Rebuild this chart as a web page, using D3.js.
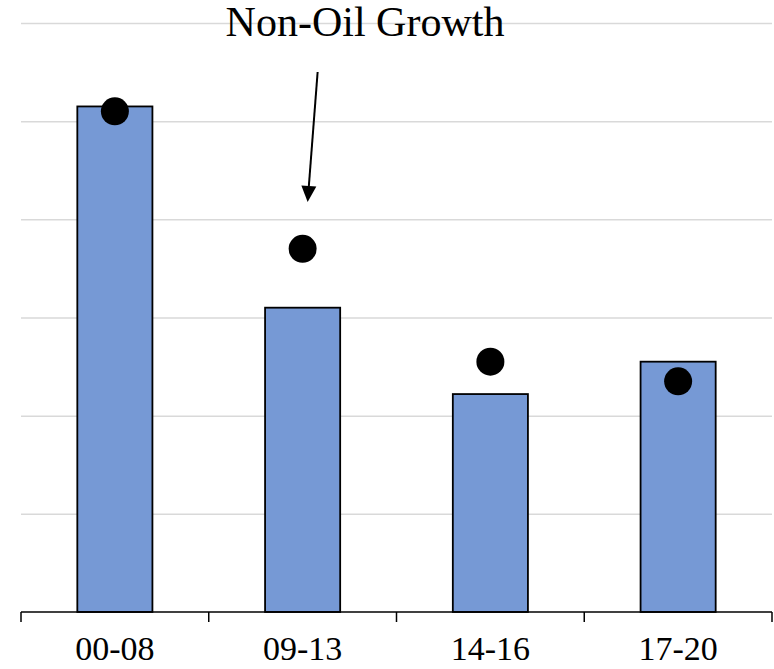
<!DOCTYPE html>
<html lang="en">
<head>
    <meta charset="UTF-8">
    <script src="https://cdnjs.cloudflare.com/ajax/libs/d3/7.8.5/d3.min.js"></script>
    <style>
        body { margin: 0; background: white; }
        svg { display: block; }
        .grid line { stroke: #d9d9d9; stroke-width: 1.5px; }
        .grid .domain { display: none; }
        rect.bar { fill: #7699d5; stroke: black; stroke-width: 1.8px; }
        circle.dot { fill: black; }
        .x-axis text { font-family: "Liberation Serif", serif; font-size: 34px; fill: black; }
        .x-axis line, .x-axis path { stroke: black; stroke-width: 1.5px; }
        text.title { font-family: "Liberation Serif", serif; font-size: 42px; fill: black; text-anchor: middle; }
    </style>
</head>
<body>
<svg width="774" height="669"></svg>
<script>
    // periods, bar values (overall growth) and dot values (non-oil growth)
    const periods = ["00-08", "09-13", "14-16", "17-20"];
    const barValues = [5.15, 3.10, 2.22, 2.55];
    const dotValues = [5.10, 3.70, 2.55, 2.35];
    const gridTicks = [0, 1, 2, 3, 4, 5, 6];

    const svg = d3.select("svg");
    const margin = {left: 21, right: 2, top: 23, bottom: 57};
    const width = 774 - margin.left - margin.right;
    const height = 669 - margin.top - margin.bottom;

    const g = svg.append("g")
        .attr("transform", `translate(${margin.left},${margin.top})`);

    const x = d3.scaleBand()
        .domain(periods)
        .range([0, width])
        .paddingInner(0.6)
        .paddingOuter(0.3);

    const y = d3.scaleLinear()
        .domain([0, 6])
        .range([height, 0]);

    // gridlines
    g.append("g")
        .attr("class", "grid")
        .call(d3.axisLeft(y).tickValues(gridTicks.slice(1)).tickSize(-width).tickFormat(""));

    g.selectAll("rect.bar")
        .data(periods)
        .enter()
        .append("rect")
        .attr("class", "bar")
        .attr("x", d => x(d))
        .attr("width", x.bandwidth())
        .attr("y", (d, i) => y(barValues[i]))
        .attr("height", (d, i) => height - y(barValues[i]));

    // x axis with ticks between categories
    const edges = d3.scaleLinear().domain([0, periods.length]).range([0, width]);
    const xAxis = g.append("g")
        .attr("class", "x-axis")
        .attr("transform", `translate(0,${height})`);
    xAxis.append("line")
        .attr("x1", 0).attr("x2", width);
    xAxis.selectAll("line.tick")
        .data(d3.range(periods.length + 1))
        .enter()
        .append("line")
        .attr("class", "tick")
        .attr("x1", d => edges(d)).attr("x2", d => edges(d))
        .attr("y1", 0).attr("y2", 10);
    xAxis.selectAll("text")
        .data(periods)
        .enter()
        .append("text")
        .attr("x", d => x(d) + x.bandwidth() / 2)
        .attr("y", 48)
        .attr("text-anchor", "middle")
        .text(d => d);

    g.selectAll("circle.dot")
        .data(periods)
        .enter()
        .append("circle")
        .attr("class", "dot")
        .attr("cx", d => x(d) + x.bandwidth() / 2)
        .attr("cy", (d, i) => y(dotValues[i]))
        .attr("r", 14);

    // annotation arrow, drawn as a line plus a filled head
    const arrowX = x("09-13") + x.bandwidth() / 2;
    const tail = [arrowX + 15, 49];
    const tip = [arrowX + 5, 179];
    const ang = Math.atan2(tip[1] - tail[1], tip[0] - tail[0]);
    const headLen = 16, headHalf = 7.5;
    const base = [tip[0] - headLen * Math.cos(ang), tip[1] - headLen * Math.sin(ang)];

    g.append("line")
        .attr("x1", tail[0]).attr("y1", tail[1])
        .attr("x2", base[0]).attr("y2", base[1])
        .attr("stroke", "black")
        .attr("stroke-width", 2);
    g.append("path")
        .attr("d", d3.line()([
            tip,
            [base[0] + headHalf * Math.sin(ang), base[1] - headHalf * Math.cos(ang)],
            [base[0] - headHalf * Math.sin(ang), base[1] + headHalf * Math.cos(ang)]
        ]) + "Z")
        .attr("fill", "black");

    g.append("text")
        .attr("class", "title")
        .attr("x", 344)
        .attr("y", 13)
        .text("Non-Oil Growth");
</script>
</body>
</html>
